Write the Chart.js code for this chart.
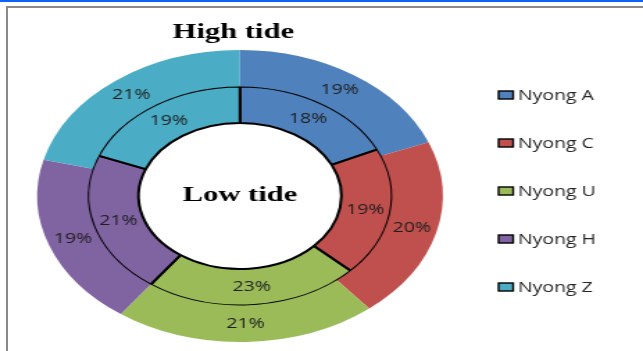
<!DOCTYPE html>
<html>
<head>
<meta charset="utf-8">
<script src="https://cdn.jsdelivr.net/npm/chart.js@4/dist/chart.umd.min.js"></script>
<style>
  html, body { margin: 0; padding: 0; background: #fff; width: 643px; height: 351px; overflow: hidden; position: relative; }
  #topbar { position: absolute; left: 0; top: 0; width: 643px; height: 2px; background: #0A64F5; }
  #frame { position: absolute; left: 6px; top: 6px; width: 700px; height: 400px;
           border-left: 2px solid #8a8a8a; border-top: 2px solid #8a8a8a; }
  /* the whole drawing is widened horizontally */
  #wrap { position: absolute; left: 0; top: 0; width: 463px; height: 351px;
          transform-origin: 0 0; transform: scaleX(1.38877); }
</style>
</head>
<body>
<div id="topbar"></div>
<div id="frame"></div>
<div id="wrap"><canvas id="c" width="463" height="351"></canvas></div>
<script>
// Share of each site, outer ring = high tide, inner ring = low tide
const categories = ['Nyong A', 'Nyong C', 'Nyong U', 'Nyong H', 'Nyong Z'];
const highTide = [19, 20, 21, 19, 21];
const lowTide = [18, 19, 23, 21, 19];
const ringTitles = ['High tide', 'Low tide'];
const colors = ['#4F81BD', '#C0504D', '#9BBB59', '#8064A2', '#4BACC6'];

// Percentage labels at the middle of every arc
const arcLabels = {
  id: 'arcLabels',
  afterDatasetsDraw(chart) {
    const ctx = chart.ctx;
    ctx.save();
    ctx.font = '14px "Open Sans", sans-serif';
    ctx.fillStyle = '#1e1e1e';
    ctx.textAlign = 'center';
    ctx.textBaseline = 'middle';
    chart.data.datasets.forEach((ds, di) => {
      chart.getDatasetMeta(di).data.forEach((arc, i) => {
        const p = arc.tooltipPosition();
        ctx.fillText(ds.data[i] + '%', p.x, p.y);
      });
    });
    ctx.restore();
  }
};

// Ring titles and the legend column
const decorations = {
  id: 'decorations',
  afterDraw(chart) {
    const ctx = chart.ctx;
    const arc0 = chart.getDatasetMeta(0).data[0];
    ctx.save();
    ctx.fillStyle = '#000';
    ctx.font = 'bold 22px "Liberation Serif", "Times New Roman", serif';
    ctx.textAlign = 'center';
    ctx.textBaseline = 'alphabetic';
    ctx.fillText(ringTitles[0], 168, 38);
    ctx.textBaseline = 'middle';
    ctx.fillText(ringTitles[1], arc0.x, arc0.y - 1);

    ctx.font = '14px "Open Sans", sans-serif';
    ctx.textAlign = 'left';
    categories.forEach((name, i) => {
      const y = 95 + i * 48;
      ctx.fillStyle = colors[i];
      ctx.fillRect(359, y - 4, 10.5, 8);
      ctx.strokeStyle = '#000';
      ctx.lineWidth = 1.4;
      ctx.strokeRect(359, y - 4, 10.5, 8);
      ctx.fillStyle = '#262626';
      ctx.fillText(name, 373, y + 1);
    });
    ctx.restore();
  }
};

new Chart(document.getElementById('c'), {
  type: 'doughnut',
  data: {
    labels: categories,
    datasets: [
      { label: ringTitles[0], data: highTide, backgroundColor: colors, borderWidth: 0, clip: false },
      { label: ringTitles[1], data: lowTide, backgroundColor: colors, borderColor: '#000', borderWidth: 2, clip: false }
    ]
  },
  options: {
    responsive: false,
    animation: false,
    radius: 146,
    cutout: '50%',
    hoverOffset: 0,
    layout: { padding: { left: 26.8, right: 144.2, top: 50, bottom: 9 } },
    plugins: { legend: { display: false }, title: { display: false }, tooltip: { enabled: false } }
  },
  plugins: [arcLabels, decorations]
});
</script>
</body>
</html>
